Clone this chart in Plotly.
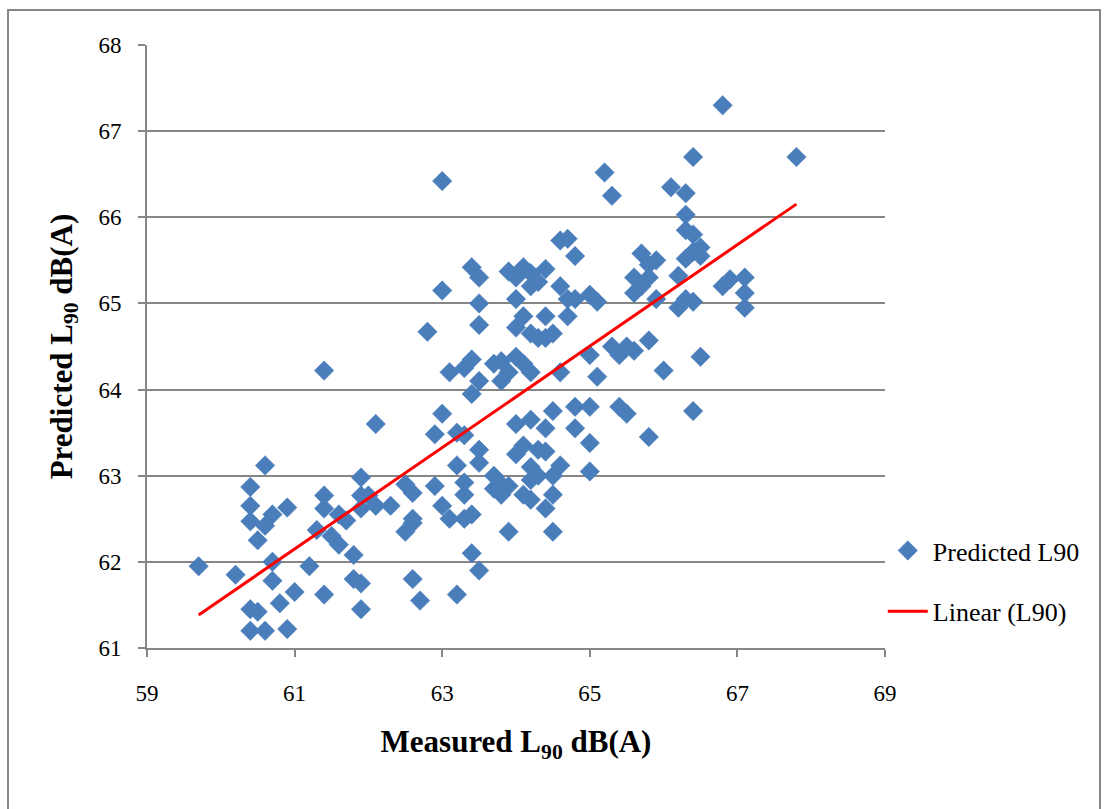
import numpy as np
import plotly.graph_objects as go

measured = [
    59.7, 60.2, 60.4, 60.4, 60.4, 60.5, 60.6, 60.6, 60.7, 60.9, 60.7, 60.7, 60.8, 61.0, 60.4, 60.5,
    60.4, 60.6, 60.9, 61.2, 61.3, 61.4, 61.4, 61.5, 61.6, 61.6, 61.4, 61.4, 61.7, 61.8, 61.8, 61.9,
    61.9, 61.9, 61.9, 62.0, 61.9, 62.1, 62.1, 62.3, 62.5, 62.5, 62.6, 62.6, 62.6, 62.6, 62.7, 62.8,
    62.9, 62.9, 63.0, 63.0, 63.0, 63.0, 63.1, 63.1, 63.2, 63.2, 63.2, 63.3, 63.3, 63.3, 63.3, 63.3,
    63.4, 63.4, 63.4, 63.4, 63.4, 63.5, 63.5, 63.5, 63.5, 63.5, 63.5, 63.5, 63.7, 63.7, 63.7, 63.8,
    63.8, 63.8, 63.8, 63.9, 63.9, 63.9, 63.9, 64.0, 64.0, 64.0, 64.0, 64.0, 64.0, 64.1, 64.1, 64.1,
    64.1, 64.1, 64.2, 64.2, 64.2, 64.2, 64.2, 64.2, 64.2, 64.2, 64.3, 64.3, 64.3, 64.3, 64.4, 64.4,
    64.4, 64.4, 64.4, 64.4, 64.5, 64.5, 64.5, 64.5, 64.5, 64.6, 64.6, 64.6, 64.6, 64.7, 64.7, 64.7,
    64.8, 64.8, 64.8, 64.8, 65.0, 65.0, 65.0, 65.0, 65.0, 65.1, 65.1, 65.2, 65.3, 65.3, 65.4, 65.4,
    65.5, 65.5, 65.6, 65.6, 65.6, 65.7, 65.7, 65.8, 65.8, 65.8, 65.8, 65.9, 65.9, 66.0, 66.1, 66.2,
    66.2, 66.3, 66.3, 66.3, 66.3, 66.3, 66.4, 66.4, 66.4, 66.4, 66.4, 66.5, 66.5, 66.5, 66.8, 66.8,
    66.9, 67.1, 67.1, 67.1, 67.8,
]
predicted = [
    61.95, 61.85, 62.87, 62.65, 62.47, 62.25, 62.42, 63.12, 62.55, 62.63, 62.0, 61.78, 61.52, 61.65, 61.45, 61.42,
    61.2, 61.2, 61.22, 61.95, 62.37, 62.77, 62.62, 62.3, 62.2, 62.55, 61.62, 64.22, 62.48, 62.08, 61.8, 61.75,
    61.45, 62.98, 62.77, 62.77, 62.62, 62.65, 63.6, 62.65, 62.9, 62.35, 62.45, 62.5, 62.8, 61.8, 61.55, 64.67,
    63.48, 62.88, 66.42, 65.15, 63.72, 62.65, 64.2, 62.5, 63.5, 63.12, 61.62, 62.5, 62.78, 63.47, 62.92, 64.25,
    64.35, 65.42, 63.95, 62.55, 62.1, 65.3, 65.0, 64.75, 64.1, 63.3, 63.15, 61.9, 64.3, 63.0, 62.85, 64.33,
    64.1, 62.9, 62.78, 65.37, 64.2, 62.88, 62.35, 65.3, 65.05, 64.72, 64.38, 63.6, 63.25, 65.42, 64.85, 64.3,
    63.35, 62.78, 65.35, 65.2, 64.65, 64.2, 63.65, 63.1, 62.95, 62.72, 64.6, 63.3, 63.0, 65.25, 65.4, 64.85,
    64.6, 63.55, 63.28, 62.62, 64.65, 63.75, 63.0, 62.78, 62.35, 65.73, 65.2, 64.2, 63.12, 65.75, 65.05, 64.85,
    65.55, 65.05, 63.8, 63.55, 65.1, 64.4, 63.8, 63.38, 63.05, 65.02, 64.15, 66.52, 66.25, 64.5, 63.8, 64.4,
    64.5, 63.72, 65.3, 65.12, 64.45, 65.58, 65.2, 65.45, 65.3, 64.57, 63.45, 65.5, 65.05, 64.22, 66.35, 65.32,
    64.95, 66.28, 66.03, 65.85, 65.52, 65.05, 66.7, 65.8, 65.6, 65.02, 63.75, 65.65, 65.55, 64.38, 67.3, 65.2,
    65.28, 65.3, 65.12, 64.95, 66.7,
]

x_ticks = [59, 61, 63, 65, 67, 69]
y_ticks = [61, 62, 63, 64, 65, 66, 67, 68]

series_name = "Predicted L90"
trend_name = "Linear (L90)"
x_title = "Measured L<sub>90</sub> dB(A)"
y_title = "Predicted L<sub>90</sub> dB(A)"

mx = np.array(measured)
py = np.array(predicted)
slope, intercept = np.polyfit(mx, py, 1)
trend_x = np.array([mx.min(), mx.max()])
trend_y = slope * trend_x + intercept

FONT = "Liberation Serif, Times New Roman, serif"

fig = go.Figure()
fig.add_trace(go.Scatter(
    x=measured, y=predicted, mode="markers", name=series_name, legendgroup="a",
    marker=dict(symbol="diamond", size=15, color="#4a7ebb", line=dict(color="#4a7ebb", width=0.5)),
))
fig.add_trace(go.Scatter(
    x=trend_x, y=trend_y, mode="lines", name=trend_name, legendgroup="b",
    line=dict(color="#ff0000", width=3),
))

fig.update_layout(
    width=1108, height=809,
    margin=dict(l=147, r=223, t=45, b=161),
    paper_bgcolor="white", plot_bgcolor="white",
    font=dict(family=FONT, color="black", size=23),
    showlegend=True,
    legend=dict(x=0.997, y=0.111, xanchor="left", yanchor="middle",
                font=dict(family=FONT, size=26, color="black"),
                bgcolor="rgba(0,0,0,0)", tracegroupgap=24, itemwidth=40),
    xaxis=dict(
        range=[59, 69], tickvals=x_ticks, ticktext=[str(v) for v in x_ticks],
        showgrid=False, zeroline=False,
        showline=True, linecolor="#868686", linewidth=2,
        ticks="outside", ticklen=7, tickcolor="#868686", tickwidth=2,
        ticklabelstandoff=16,
        tickfont=dict(family=FONT, size=23, color="black"),
        title=dict(text="<b>" + x_title + "</b>", font=dict(family=FONT, size=31, color="black"), standoff=26),
    ),
    yaxis=dict(
        range=[61, 68], tickvals=y_ticks, ticktext=[str(v) for v in y_ticks],
        showgrid=True, gridcolor="#868686", gridwidth=2, zeroline=False,
        showline=True, linecolor="#868686", linewidth=2,
        ticks="outside", ticklen=7, tickcolor="#868686", tickwidth=2,
        ticklabelstandoff=12,
        tickfont=dict(family=FONT, size=23, color="black"),
        title=dict(text="<b>" + y_title + "</b>", font=dict(family=FONT, size=31, color="black"), standoff=17),
    ),
)

# outer chart-area frame
fig.add_shape(type="rect", xref="paper", yref="paper",
              x0=(8 - 147) / 738, x1=(1100 - 147) / 738,
              y0=(648 - 830) / 603, y1=(648 - 10) / 603,
              line=dict(color="#868686", width=2), fillcolor="rgba(0,0,0,0)", layer="below")

fig.write_html("out.html")
